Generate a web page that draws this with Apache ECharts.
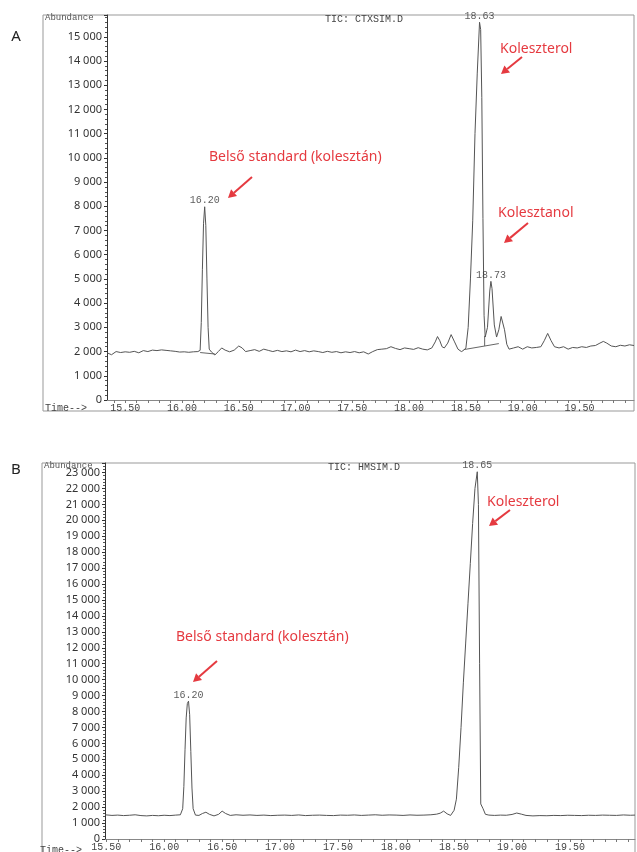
<!DOCTYPE html>
<html><head><meta charset="utf-8">
<script src="https://cdn.jsdelivr.net/npm/echarts@6/dist/echarts.min.js"></script>
<style>html,body{margin:0;padding:0;background:#fff}#c{width:637px;height:852px}</style>
</head><body><div id="c"></div>
<script>
// ---------- Chart A (TIC: CTXSIM.D) ----------
const timeA = [
15.34,15.38,15.42,15.46,15.50,15.54,15.58,15.62,15.66,15.70,
15.74,15.78,15.82,15.86,15.90,15.94,15.98,16.02,16.06,16.10,
16.14,16.16,16.17,16.18,16.19,16.20,16.21,16.22,16.23,16.24,
16.26,16.29,16.32,16.35,16.38,16.42,16.46,16.50,16.53,16.56,
16.60,16.64,16.68,16.72,16.76,16.80,16.84,16.88,16.92,16.96,
17.00,17.04,17.08,17.12,17.16,17.20,17.24,17.28,17.32,17.36,
17.40,17.44,17.48,17.52,17.56,17.60,17.64,17.68,17.72,17.76,
17.80,17.84,17.88,17.92,17.96,18.00,18.04,18.08,18.12,18.16,
18.20,18.23,18.25,18.27,18.29,18.31,18.34,18.37,18.40,18.43,
18.46,18.48,18.50,18.52,18.54,18.56,18.58,18.60,18.62,18.63,
18.64,18.65,18.66,18.67,18.69,18.71,18.72,18.73,18.75,18.77,
18.79,18.81,18.82,18.84,18.86,18.88,18.92,18.96,19.00,19.04,
19.08,19.12,19.16,19.19,19.22,19.25,19.28,19.32,19.36,19.40,
19.44,19.48,19.52,19.56,19.60,19.64,19.68,19.71,19.74,19.78,
19.82,19.86,19.90,19.94,19.98];
const abundA = [
1950,1870,2000,1960,1990,1970,2010,1950,2040,2000,
2060,2040,2070,2050,2030,2010,1980,1990,1970,1990,
2000,2050,3200,5400,7300,7980,7200,5000,3000,2100,
1980,1860,2000,2150,2060,1990,2060,2230,2150,2000,
2040,2080,2010,2100,2050,2000,2050,2000,2030,1990,
2060,2000,2040,1990,2030,2000,1960,2010,1970,2000,
1950,1990,1960,2000,1950,1990,1900,2000,2080,2100,
2120,2200,2130,2080,2150,2120,2090,2160,2100,2070,
2150,2400,2620,2450,2200,2150,2350,2700,2400,2100,
2000,2050,2150,3000,5000,7400,11000,13500,15600,15300,
12500,7500,3500,2600,3000,4500,4900,4600,3100,2600,
2900,3450,3500,2900,2300,2100,2150,2200,2100,2200,
2150,2170,2200,2450,2750,2450,2200,2150,2200,2100,
2170,2150,2200,2170,2230,2250,2350,2420,2350,2230,
2200,2260,2230,2280,2250];
const peakTimeA = [16.20, 18.62, 18.72];
const peakValA  = [7980, 15600, 4900];
const peakTextA = ['16.20', '18.63', '18.73'];
const integLineA1 = [[16.16, 1960], [16.29, 1900]];
const integLineA2 = [[18.48, 2080], [18.79, 2330]];
const dropLineA   = [[18.665, 2230], [18.665, 2650]];

// ---------- Chart B (TIC: HMSIM.D) ----------
const timeB = [
15.49,15.55,15.60,15.65,15.70,15.75,15.80,15.85,15.90,15.95,
16.00,16.05,16.10,16.14,16.16,16.17,16.18,16.19,16.20,16.21,
16.22,16.23,16.24,16.25,16.27,16.30,16.33,16.36,16.39,16.43,
16.47,16.50,16.53,16.57,16.62,16.68,16.74,16.80,16.86,16.92,
16.98,17.04,17.10,17.16,17.22,17.28,17.34,17.40,17.46,17.52,
17.58,17.64,17.70,17.76,17.82,17.88,17.94,18.00,18.06,18.12,
18.18,18.24,18.30,18.35,18.38,18.41,18.44,18.47,18.50,18.52,
18.54,18.56,18.58,18.60,18.62,18.64,18.66,18.68,18.70,18.71,
18.72,18.73,18.75,18.77,18.80,18.85,18.90,18.95,19.00,19.04,
19.08,19.12,19.18,19.24,19.30,19.36,19.42,19.48,19.54,19.60,
19.66,19.72,19.78,19.84,19.90,19.96,20.02,20.06];
const abundB = [
1520,1480,1500,1470,1490,1520,1470,1450,1480,1460,
1490,1470,1500,1520,1900,3300,5600,7600,8500,8650,
7800,5500,3200,1900,1500,1480,1600,1680,1550,1450,
1550,1750,1600,1480,1520,1490,1510,1480,1500,1470,
1490,1500,1480,1510,1470,1490,1500,1480,1470,1500,
1490,1510,1480,1500,1520,1490,1510,1500,1480,1510,
1490,1500,1520,1560,1620,1750,1580,1480,1800,2500,
4500,7000,9800,12300,14800,17300,19800,22000,23050,21000,
11000,2200,1900,1550,1500,1480,1500,1490,1540,1630,
1560,1480,1450,1470,1460,1480,1470,1490,1480,1470,
1490,1480,1500,1490,1480,1510,1490,1500];
const peakTimeB = [16.21, 18.70];
const peakValB  = [8650, 23050];
const peakTextB = ['16.20', '18.65'];

// ---------- Axis ticks / labels ----------
const xLabelValues = [15.5,16.0,16.5,17.0,17.5,18.0,18.5,19.0,19.5];
const xTickValues = [15.4,15.5,15.6,15.7,15.8,15.9,16.0,16.1,16.2,16.3,16.4,16.5,16.6,16.7,16.8,16.9,
  17.0,17.1,17.2,17.3,17.4,17.5,17.6,17.7,17.8,17.9,18.0,18.1,18.2,18.3,18.4,18.5,18.6,18.7,18.8,18.9,
  19.0,19.1,19.2,19.3,19.4,19.5,19.6,19.7,19.8,19.9,20.0];

const RED = '#e53a40';
const MONO = "'Liberation Mono', 'DejaVu Sans Mono', monospace";
const SANS = "'Noto Sans', 'Open Sans', sans-serif";

function pairs(t, v){ return t.map((x,i)=>[x, v[i]]); }
function yFmt(v){ if (v % 1000) return ''; return v === 0 ? '0' : (v/1000) + ' 000'; }

function xAxisCfg(gi, min, max){
  return {
    type:'value', gridIndex:gi, min:min, max:max,
    axisLine:{show:true, lineStyle:{color:'#888', width:1}},
    axisTick:{show:true, customValues: xTickValues.filter(v=>v>=min && v<=max), length:3, lineStyle:{color:'#777'}},
    axisLabel:{show:true, customValues: xLabelValues.filter(v=>v>=min && v<=max), margin:3,
      formatter:(v)=>v.toFixed(2), fontFamily:MONO, fontSize:10, color:'#444'},
    splitLine:{show:false}
  };
}
function yAxisCfg(gi, max){
  return {
    type:'value', gridIndex:gi, min:0, max:max, interval:1000,
    axisLine:{show:true, lineStyle:{color:'#333', width:1}},
    axisTick:{show:true, length:3, lineStyle:{color:'#333'}},
    minorTick:{show:true, splitNumber:5, length:2, lineStyle:{color:'#555'}},
    axisLabel:{formatter:yFmt, fontFamily:SANS, fontSize:11, color:'#333', margin:5},
    splitLine:{show:false}
  };
}
function traceSeries(idx, data){
  return {type:'line', xAxisIndex:idx, yAxisIndex:idx, data:data, symbol:'none', smooth:false,
    lineStyle:{color:'#555', width:1}, silent:true, z:3};
}
function thinLine(idx, data){
  return {type:'line', xAxisIndex:idx, yAxisIndex:idx, data:data, symbol:'none',
    lineStyle:{color:'#666', width:1}, silent:true, z:2};
}
function peakLabels(idx, t, v, txt){
  return {type:'scatter', xAxisIndex:idx, yAxisIndex:idx, symbolSize:0,
    data: t.map((x,i)=>({value:[x, v[i]], label:{formatter: txt[i]}})),
    label:{show:true, position:'top', distance:1, fontFamily:MONO, fontSize:10, color:'#333'}, z:4, silent:true};
}
function arrow(x1,y1,x2,y2){
  const dx=x2-x1, dy=y2-y1, L=Math.hypot(dx,dy), ux=dx/L, uy=dy/L;
  const hl=8, hw=4.5, bx=x2-ux*hl, by=y2-uy*hl;
  return [
    {type:'line', shape:{x1:x1,y1:y1,x2:bx,y2:by}, style:{stroke:RED, lineWidth:2}},
    {type:'polygon', shape:{points:[[x2,y2],[bx-uy*hw,by+ux*hw],[bx+uy*hw,by-ux*hw]]}, style:{fill:RED}}
  ];
}
function txt(x,y,text,font,fill,align){
  return {type:'text', x:x, y:y, style:{text:text, font:font, fill:fill, align:align||'left', verticalAlign:'middle', textAlign:align||'left', textVerticalAlign:'middle'}};
}

const chart = echarts.init(document.getElementById('c'), null, {renderer:'canvas'});
const graphics = [
  {type:'rect', shape:{x:43, y:15, width:591, height:396}, style:{fill:'none', stroke:'#999', lineWidth:1}, z:-1},
  {type:'rect', shape:{x:42, y:463, width:593, height:400}, style:{fill:'none', stroke:'#999', lineWidth:1}, z:-1},
  txt(16, 37, 'A', "15px " + SANS, '#222', 'center'),
  txt(16, 470, 'B', "15px " + SANS, '#222', 'center'),
  txt(45, 18, 'Abundance', "9px " + MONO, '#555'),
  txt(44, 466, 'Abundance', "9px " + MONO, '#555'),
  txt(325, 19, 'TIC: CTXSIM.D', "10px " + MONO, '#444'),
  txt(328, 467, 'TIC: HMSIM.D', "10px " + MONO, '#444'),
  txt(45, 408, 'Time-->', "10px " + MONO, '#444'),
  txt(40, 850, 'Time-->', "10px " + MONO, '#444'),
  txt(209, 157, 'Belső standard (kolesztán)', "14px " + SANS, RED),
  txt(500, 49, 'Koleszterol', "14px " + SANS, RED),
  txt(498, 213, 'Kolesztanol', "14px " + SANS, RED),
  txt(176, 637, 'Belső standard (kolesztán)', "14px " + SANS, RED),
  txt(487, 502, 'Koleszterol', "14px " + SANS, RED),
  ...arrow(252,177,228,198),
  ...arrow(522,57,501,74),
  ...arrow(528,223,504,243),
  ...arrow(217,661,193,682),
  ...arrow(510,510,489,526)
];

chart.setOption({
  animation:false,
  backgroundColor:'#fff',
  grid:[
    {left:107, top:15, width:527, height:385, show:false},
    {left:105, top:463, width:530, height:379, show:false}
  ],
  xAxis:[ xAxisCfg(0, 15.34, 19.98), xAxisCfg(1, 15.49, 20.06) ],
  yAxis:[ yAxisCfg(0, 15900), yAxisCfg(1, 23600) ],
  series:[
    traceSeries(0, pairs(timeA, abundA)),
    thinLine(0, integLineA1),
    thinLine(0, integLineA2),
    thinLine(0, dropLineA),
    peakLabels(0, peakTimeA, peakValA, peakTextA),
    traceSeries(1, pairs(timeB, abundB)),
    peakLabels(1, peakTimeB, peakValB, peakTextB)
  ],
  graphic: graphics
});
</script>
</body></html>
